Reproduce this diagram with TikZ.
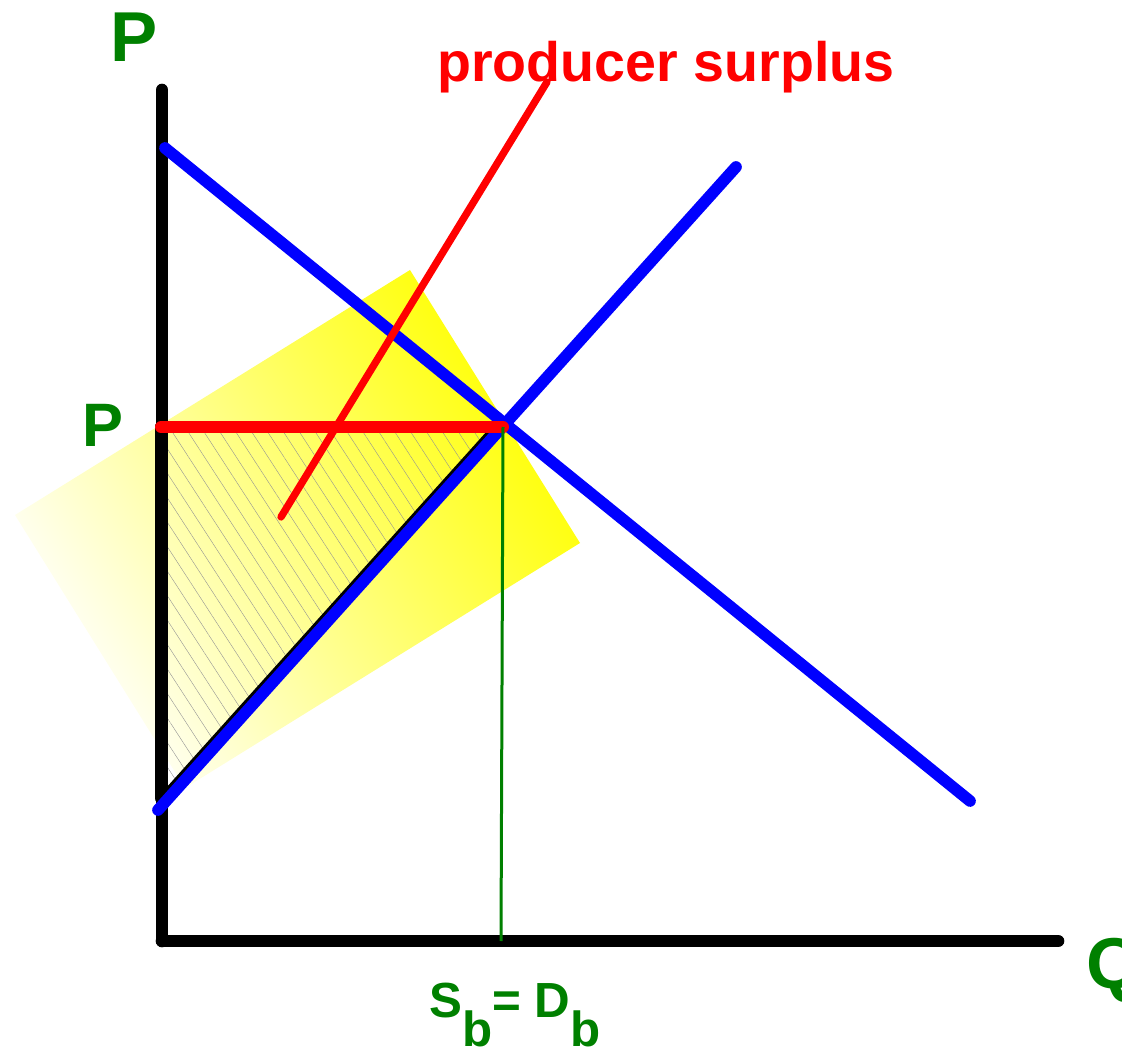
\documentclass[tikz,border=0pt]{standalone}
\usepackage{fontspec}
\setmainfont{Liberation Sans}
\usetikzlibrary{patterns.meta}
\definecolor{tgreen}{RGB}{0,128,0}
\begin{document}
\begin{tikzpicture}[x=0.75pt,y=-0.75pt,
  lbl/.style={inner sep=0pt, text=tgreen},
  curve/.style={draw=blue, line width=8.75pt, line cap=round},
  axisline/.style={draw=black, line width=9.5pt, line cap=round},
  redline/.style={draw=red, line cap=round},
]
\useasboundingbox (0,0) rectangle (1122,1048);
% coordinates
\coordinate (O) at (162,941);
\coordinate (Ytop) at (162,90);
\coordinate (Xend) at (1058,941);
\coordinate (D1) at (165,148);
\coordinate (D2) at (970,801);
\coordinate (S1) at (158,810);
\coordinate (S2) at (736,167);
\coordinate (E) at (503,427);
\coordinate (Pp) at (161,427);
\coordinate (R1) at (281,517);
\coordinate (R2) at (547,82);
\coordinate (Ebase) at (501,941);
\coordinate (T1) at (161,798);
\coordinate (T2) at (492,430);
% yellow gradient rectangle
\shade[top color=yellow, bottom color=white, shading angle=-58.2]
  (15,515) -- (410,270) -- (580,543) -- (185,788) -- cycle;
% hatched triangle
\fill[pattern={Lines[angle=-57,distance=10pt,line width=0.3pt]}, pattern color=gray!85]
  (166,433) -- (492,433) -- (166,790) -- cycle;
% axes
\draw[axisline] (Ytop) -- (O);
\draw[axisline] (O) -- (Xend);
% triangle edges
\draw[draw=black, line width=9.5pt, line cap=round] (Pp) -- (T1);
\draw[draw=black, line width=4.5pt, line cap=round] (T1) -- (T2);
% curves
\draw[curve] (D1) -- (D2);
\draw[curve] (S1) -- (S2);
% red
\draw[redline, line width=9pt] (Pp) -- (E);
\draw[redline, line width=5.5pt] (R1) -- (R2);
% green
\draw[draw=tgreen, line width=2.25pt] (E) -- (Ebase);
% labels
\node[lbl, font=\bfseries\fontsize{53}{53}\selectfont] (Ptop) at (134,37) {P};
\node[lbl, font=\bfseries\fontsize{46}{46}\selectfont] (Pmid) at (103,425) {P};
\node[inner sep=0pt, anchor=base west, text=red, font=\bfseries\fontsize{41.7}{41.7}\selectfont] (ps) at (437,82) {producer surplus};
\node[lbl, anchor=west, font=\bfseries\fontsize{54}{54}\selectfont] (Q) at (1086,970) {Q};
\node[lbl, anchor=base west, font=\bfseries\fontsize{37}{37}\selectfont] (sd) at (429,1017) {S\raisebox{-22pt}{b}= D\raisebox{-22pt}{b}};
\end{tikzpicture}
\end{document}
